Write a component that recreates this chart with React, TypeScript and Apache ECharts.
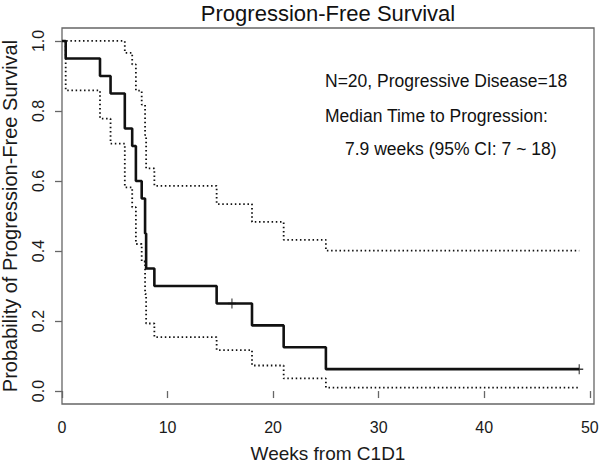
import React, { useEffect, useRef } from "react";
import * as echarts from "echarts";

// Kaplan-Meier step data (weeks from C1D1)
const weeks = [0, 0.35, 3.6, 4.6, 5.95, 6.65, 7.0, 7.55, 7.87, 7.97, 8.75, 14.65, 18.0, 21.0, 25.0, 49];
const survival = [1, 0.95, 0.9, 0.85, 0.75, 0.7, 0.6, 0.55, 0.45, 0.35, 0.3, 0.25, 0.1875, 0.125, 0.0625, 0.0625];
const upperCI = [1, 1, 1, 1, 0.966, 0.933, 0.858, 0.818, 0.731, 0.636, 0.586, 0.534, 0.483, 0.432, 0.401, 0.401];
const lowerCI = [1, 0.859, 0.778, 0.707, 0.582, 0.525, 0.42, 0.37, 0.277, 0.193, 0.154, 0.117, 0.073, 0.036, 0.0097, 0.0097];
const censorWeeks = [16.1, 49];
const censorSurvival = [0.25, 0.0625];

const xTicks = [0, 10, 20, 30, 40, 50];
const yTicks = [0, 0.2, 0.4, 0.6, 0.8, 1.0];

const titleText = "Progression-Free Survival";
const xName = "Weeks from C1D1";
const yName = "Probability of Progression-Free Survival";
const noteLines = [
  "N=20, Progressive Disease=18",
  "Median Time to Progression:",
  "7.9 weeks (95% CI: 7 ~ 18)",
];

const FONT = "'Liberation Sans', Arial, Helvetica, sans-serif";

export default function App() {
  const ref = useRef<HTMLDivElement>(null);
  useEffect(() => {
    if (!ref.current) return;
    const chart = echarts.init(ref.current, null, { renderer: "svg" });
    const pair = (xs: number[], ys: number[]) => xs.map((x, i) => [x, ys[i]]);
    const dotted = { color: "#111", width: 1.8, type: [1.5, 2.7] as any };
    chart.setOption({
      animation: false,
      backgroundColor: "#fff",
      textStyle: { fontFamily: FONT },
      grid: {
        left: 62,
        right: 6,
        top: 28,
        bottom: 58,
        containLabel: false,
        outerBoundsMode: "none",
        show: true,
        borderColor: "#666",
        borderWidth: 1.3,
        backgroundColor: "transparent",
      },
      xAxis: {
        type: "value",
        min: 0,
        max: 50.4,
        name: xName,
        nameLocation: "middle",
        nameGap: 40,
        nameMoveOverlap: false,
        nameTextStyle: { fontSize: 19, lineHeight: 18, color: "#1a1a1a", fontFamily: FONT },
        axisLine: { show: false },
        axisTick: {
          show: true,
          length: 7,
          customValues: xTicks,
          lineStyle: { color: "#666", width: 1.3 },
        },
        axisLabel: {
          customValues: xTicks,
          fontSize: 16,
          color: "#1a1a1a",
          margin: 15,
          fontFamily: FONT,
        },
        splitLine: { show: false },
      },
      yAxis: {
        type: "value",
        min: -0.037,
        max: 1.037,
        name: yName,
        nameLocation: "middle",
        nameGap: 42,
        nameMoveOverlap: false,
        nameTextStyle: { fontSize: 20, lineHeight: 20, color: "#1a1a1a", fontFamily: FONT },
        axisLine: { show: false },
        axisTick: {
          show: true,
          length: 7,
          customValues: yTicks,
          lineStyle: { color: "#666", width: 1.3 },
        },
        axisLabel: {
          customValues: yTicks,
          rotate: 90,
          fontSize: 16,
          color: "#1a1a1a",
          margin: 16,
          fontFamily: FONT,
          formatter: (v: number) => v.toFixed(1),
        },
        splitLine: { show: false },
      },
      graphic: [
        {
          type: "text",
          x: 328,
          y: 13.4,
          style: {
            text: titleText,
            fontSize: 22,
            fontFamily: FONT,
            fill: "#111",
            align: "center",
            verticalAlign: "middle",
          },
        },
        {
          type: "text",
          x: 325,
          y: 80.6,
          style: { text: noteLines[0], fontSize: 17.5, fontFamily: FONT, fill: "#111", align: "left", verticalAlign: "middle" },
        },
        {
          type: "text",
          x: 325,
          y: 115.6,
          style: { text: noteLines[1], fontSize: 17.5, fontFamily: FONT, fill: "#111", align: "left", verticalAlign: "middle" },
        },
        {
          type: "text",
          x: 345,
          y: 149,
          style: { text: noteLines[2], fontSize: 17.5, fontFamily: FONT, fill: "#111", align: "left", verticalAlign: "middle" },
        },
      ],
      series: [
        {
          type: "line",
          step: "end",
          data: pair(weeks, upperCI),
          showSymbol: false,
          lineStyle: dotted,
          z: 2,
        },
        {
          type: "line",
          step: "end",
          data: pair(weeks, lowerCI),
          showSymbol: false,
          lineStyle: dotted,
          z: 2,
        },
        {
          type: "line",
          step: "end",
          data: pair(weeks, survival),
          showSymbol: false,
          lineStyle: { color: "#111", width: 2.6 },
          z: 3,
        },
        {
          type: "scatter",
          data: pair(censorWeeks, censorSurvival),
          symbol: "path://M5,0L5,10M0,5L10,5",
          symbolSize: [8, 10],
          itemStyle: { color: "none", borderColor: "#111", borderWidth: 1.3 },
          z: 4,
        },
      ],
    });
    return () => chart.dispose();
  }, []);
  return (
    <div
      ref={ref}
      style={{ position: "fixed", left: 0, top: 0, width: 600, height: 462, background: "#fff" }}
    />
  );
}
